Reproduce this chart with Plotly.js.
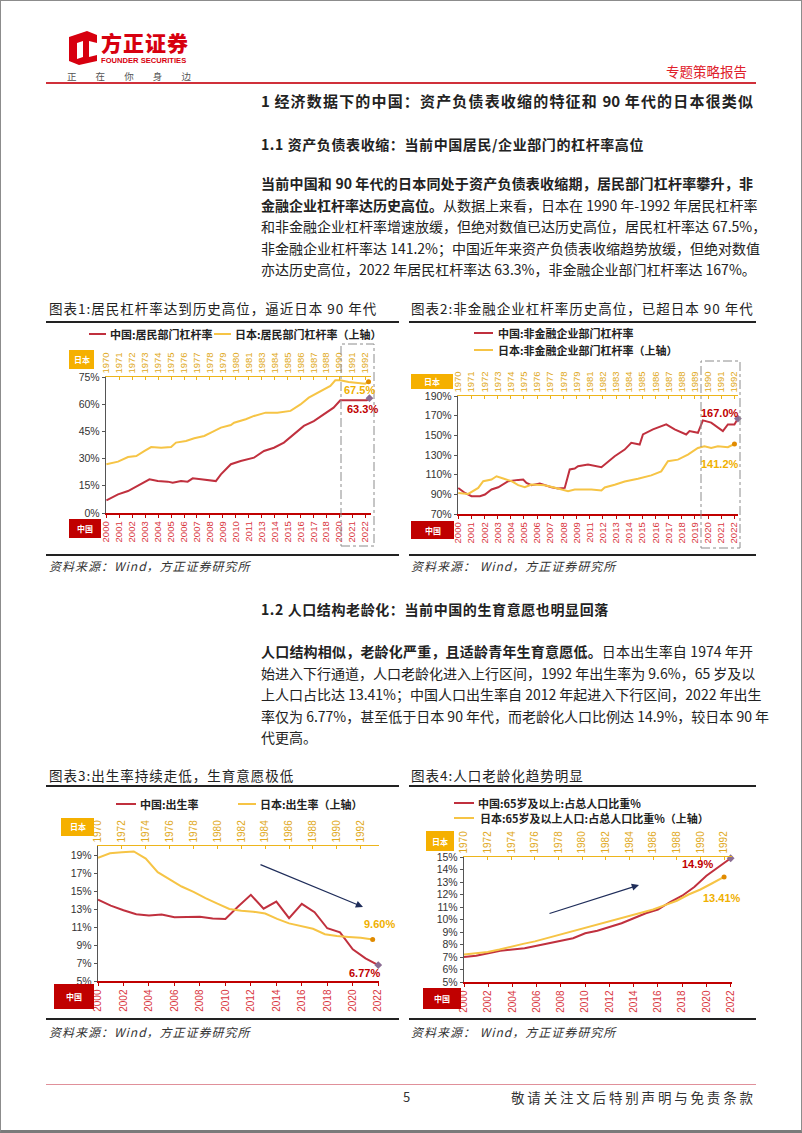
<!DOCTYPE html>
<html>
<head>
<meta charset="utf-8">
<script src="https://cdn.plot.ly/plotly-3.0.1.min.js"></script>
<style>
  body { margin: 0; background: #fff; }
  #page { position: relative; width: 800px; height: 1129px; border: 1px solid #8c8c8c; border-bottom: 3px solid #7a7a7a;
          overflow: hidden; font-family: "Liberation Sans Narrow", "Noto Sans CJK SC", sans-serif; color: #222; }
  .abs { position: absolute; white-space: nowrap; }
  .para { position: absolute; left: 260px; width: 492px; font-size: 14px; line-height: 21.5px; }
  .para div { text-align: justify; text-align-last: justify; white-space: nowrap; }
  .para div.last { text-align-last: left; }
  .ctitle { position: absolute; font-family: "Noto Sans CJK SC", sans-serif; font-size: 13.5px; line-height: 18px; letter-spacing: 1px; white-space: nowrap; }
  .rule { position: absolute; height: 1.5px; background: #222; }
  .src { position: absolute; font-family: "Noto Sans CJK SC", sans-serif; font-size: 12px; font-style: italic; letter-spacing: 1px; color: #333; white-space: nowrap; }
  .chart { position: absolute; }
</style>
</head>
<body>
<div id="page">
  <!-- header -->
  <svg class="abs" style="left:66px;top:30px" width="30" height="34" viewBox="0 0 30 34">
    <path fill="#D7000F" fill-rule="evenodd" d="M2 6 L20 0 L30 4 L30 12 L22 10 L22 26 L30 24 L30 30 L12 34 L2 30 Z M10 12 L10 28 L16 26 L16 10 Z"/>
  </svg>
  <div class="abs" style="left:100px;top:28px;font-family:'Noto Sans CJK SC';font-size:21px;font-weight:900;color:#D7000F;letter-spacing:1px;line-height:26px">方正证券</div>
  <div class="abs" style="left:100px;top:55px;font-family:'Liberation Sans';font-size:7.6px;font-weight:700;color:#D7000F;line-height:9px">FOUNDER SECURITIES</div>
  <div class="abs" style="left:66px;top:69px;width:124px;font-family:'Noto Sans CJK SC';font-size:9.5px;color:#555;text-align:justify;text-align-last:justify;line-height:12px">正在你身边</div>
  <div class="abs" style="left:665px;top:61px;font-family:'Noto Sans CJK SC';font-size:13.5px;color:#E0202A;line-height:18px">专题策略报告</div>
  <div class="abs" style="left:45px;top:81px;width:710px;height:1.5px;background:#D0303A"></div>

  <div class="abs" style="left:260px;top:90px;width:492px;font-size:15px;font-weight:700;line-height:20px;text-align:justify;text-align-last:justify">1 经济数据下的中国：资产负债表收缩的特征和 90 年代的日本很类似</div>
  <div class="abs" style="left:260px;top:133px;font-size:14px;font-weight:700;line-height:20px;letter-spacing:0.6px">1.1 资产负债表收缩：当前中国居民/企业部门的杠杆率高位</div>

  <div class="para" style="top:172px">
    <div><b>当前中国和 90 年代的日本同处于资产负债表收缩期，居民部门杠杆率攀升，非</b></div>
    <div><b>金融企业杠杆率达历史高位。</b>从数据上来看，日本在 1990 年-1992 年居民杠杆率</div>
    <div>和非金融企业杠杆率增速放缓，但绝对数值已达历史高位，居民杠杆率达 67.5%，</div>
    <div>非金融企业杠杆率达 141.2%；中国近年来资产负债表收缩趋势放缓，但绝对数值</div>
    <div class="last">亦达历史高位，2022 年居民杠杆率达 63.3%，非金融企业部门杠杆率达 167%。</div>
  </div>

  <div class="ctitle" style="left:48px;top:298px">图表1:居民杠杆率达到历史高位，逼近日本 90 年代</div>
  <div class="ctitle" style="left:410px;top:298px">图表2:非金融企业杠杆率历史高位，已超日本 90 年代</div>
  <div class="rule" style="left:45px;top:320px;width:353px"></div>
  <div class="rule" style="left:408px;top:320px;width:347px"></div>
  <div id="chart1" class="chart"></div>
  <div id="chart2" class="chart"></div>
  <div class="rule" style="left:45px;top:553px;width:353px"></div>
  <div class="rule" style="left:408px;top:553px;width:347px"></div>
  <div class="src" style="left:48px;top:556px">资料来源：Wind，方正证券研究所</div>
  <div class="src" style="left:410px;top:556px">资料来源： Wind，方正证券研究所</div>

  <div class="abs" style="left:260px;top:598px;font-size:14px;font-weight:700;line-height:20px;letter-spacing:0.6px">1.2 人口结构老龄化：当前中国的生育意愿也明显回落</div>
  <div class="para" style="top:640px">
    <div><b>人口结构相似，老龄化严重，且适龄青年生育意愿低。</b>日本出生率自 1974 年开</div>
    <div>始进入下行通道，人口老龄化进入上行区间，1992 年出生率为 9.6%，65 岁及以</div>
    <div>上人口占比达 13.41%；中国人口出生率自 2012 年起进入下行区间，2022 年出生</div>
    <div>率仅为 6.77%，甚至低于日本 90 年代，而老龄化人口比例达 14.9%，较日本 90 年</div>
    <div class="last">代更高。</div>
  </div>

  <div class="ctitle" style="left:48px;top:765px">图表3:出生率持续走低，生育意愿极低</div>
  <div class="ctitle" style="left:410px;top:765px">图表4:人口老龄化趋势明显</div>
  <div class="rule" style="left:45px;top:784px;width:353px"></div>
  <div class="rule" style="left:408px;top:784px;width:347px"></div>
  <div id="chart3" class="chart"></div>
  <div id="chart4" class="chart"></div>
  <div class="rule" style="left:45px;top:1017px;width:353px"></div>
  <div class="rule" style="left:408px;top:1017px;width:347px"></div>
  <div class="src" style="left:48px;top:1022px">资料来源：Wind，方正证券研究所</div>
  <div class="src" style="left:410px;top:1022px">资料来源： Wind，方正证券研究所</div>

  <!-- footer -->
  <div class="abs" style="left:45px;top:1083px;width:710px;height:1px;background:#E0909A"></div>
  <div class="abs" style="left:402px;top:1087px;font-size:13px;color:#333;line-height:18px">5</div>
  <div class="abs" style="left:510px;top:1087px;width:242px;font-family:'Noto Sans CJK SC';font-size:13.5px;color:#333;line-height:18px;text-align:justify;text-align-last:justify">敬请关注文后特别声明与免责条款</div>
</div>

<script>
// values
// charts 1 and 2 use tick-label index on both x axes (labels are irregular)

// 图表1: 居民部门杠杆率 (%)
var c1Bottom = ['2000','2001','2002','2003','2004','2005','2006','2007','2008','2009','2010','2011','2013','2014','2015','2016','2017','2018','2020','2021','2022'];
var c1Top = ['1970','1971','1972','1973','1974','1975','1976','1977','1978','1979','1980','1981','1983','1984','1985','1986','1987','1988','1990','1991','1992'];
var c1CnX = [0,0.9,1.67,2.44,3.33,3.97,4.74,5.13,5.77,6.28,6.67,7.31,7.82,8.46,8.85,9.23,9.62,10.38,11.41,12.18,12.95,13.72,14.49,15.26,16.03,16.79,17.56,18.08,19.1,20.13,20.33];
var c1CnY = [7.0,10.3,12.1,14.9,18.6,17.6,17.3,16.7,17.6,17.3,19.1,18.6,18.0,17.6,21.3,24.1,26.9,28.7,30.5,34.2,36.0,38.8,43.4,48.0,50.7,54.4,58.1,62.2,62.0,62.2,63.3];
var c1JpX = [0,0.9,1.67,2.31,2.95,3.46,4.23,5.0,5.38,6.15,6.79,7.56,8.08,8.85,9.62,9.87,10.77,11.41,12.31,13.21,14.23,15.0,15.64,16.54,17.31,17.69,18.08,18.72,19.36,20.0,20.26];
var c1JpY = [25.1,26.4,28.8,29.3,31.9,33.9,33.6,33.9,36.2,37.0,38.4,39.6,41.3,43.9,45.2,46.4,48.2,49.9,51.6,51.6,52.5,55.8,59.3,62.7,65.3,68.2,68.2,67.4,67.1,66.5,67.5];

// 图表2: 非金融企业部门杠杆率 (%)
var c2Bottom = ['2000','2001','2002','2003','2004','2005','2006','2007','2008','2009','2011','2012','2013','2014','2015','2016','2017','2018','2019','2020','2021','2022'];
var c2Top = ['1970','1971','1972','1973','1974','1975','1976','1977','1978','1979','1981','1982','1983','1984','1985','1986','1987','1988','1989','1990','1991','1992'];
var c2CnX = [0,0.51,1.01,1.65,2.03,2.53,3.04,3.80,4.56,4.94,5.19,5.57,6.20,6.58,7.09,7.59,8.10,8.48,8.86,9.11,9.87,10.89,11.90,12.66,13.16,13.80,14.05,14.81,15.57,15.82,16.46,17.34,17.59,18.23,18.61,19.24,20.13,20.51,21.01,21.27];
var c2CnY = [96.5,91.4,88.1,88.1,89.8,94.9,97.2,103.4,104.7,105.1,101.6,99.3,101.0,99.3,97.2,95.9,96.5,115.3,116.3,118.6,120.3,117.6,128.8,135.5,142.4,140.7,150.9,156.0,159.4,161.1,156.0,150.9,154.3,152.6,165.2,162.9,154.3,161.1,161.1,167.0];
var c2JpX = [0,0.76,1.52,1.90,2.53,2.91,3.42,4.05,4.56,5.06,5.57,6.58,7.59,8.35,8.86,10.13,10.89,11.14,11.90,12.66,13.67,14.68,15.44,15.95,16.71,17.47,18.23,18.73,19.24,19.75,20.51,21.01];
var c2JpY = [91.4,90.4,96.5,103.4,105.1,108.4,106.1,103.4,99.3,97.2,100.0,99.3,95.9,93.2,94.9,94.9,94.0,97.0,99.7,103.1,105.9,109.3,113.4,123.6,125.3,130.4,137.2,138.9,137.2,138.9,138.0,141.2];

// 图表3: 出生率 (%)
var c3Bottom = ['2000','2002','2004','2006','2008','2010','2012','2014','2016','2018','2020','2022'];
var c3Top = ['1970','1972','1974','1976','1978','1980','1982','1984','1986','1988','1990','1992'];
var c3CnX = [2000,2001,2002,2003,2004,2005,2006,2007,2008,2009,2010,2011,2012,2013,2014,2015,2016,2017,2018,2019,2020,2021,2022];
var c3CnY = [14.03,13.38,12.86,12.41,12.29,12.40,12.09,12.10,12.14,11.95,11.90,13.27,14.57,13.03,13.83,11.99,13.57,12.64,10.86,10.41,8.52,7.52,6.77];
var c3JpX = [1970,1971,1972,1973,1974,1975,1976,1977,1978,1979,1980,1981,1982,1983,1984,1985,1986,1987,1988,1989,1990,1991,1992,1993];
var c3JpY = [18.7,19.2,19.3,19.4,18.6,17.1,16.3,15.5,14.9,14.2,13.6,13.0,12.8,12.7,12.5,11.9,11.4,11.1,10.8,10.2,10.0,9.9,9.8,9.6];

// 图表4: 65岁及以上人口占比 (%)
var c4Bottom = ['2000','2002','2004','2006','2008','2010','2012','2014','2016','2018','2020','2022'];
var c4Top = ['1970','1972','1974','1976','1978','1980','1982','1984','1986','1988','1990','1992'];
var c4CnX = [2000,2001,2002,2003,2004,2005,2006,2007,2008,2009,2010,2011,2012,2013,2014,2015,2016,2017,2018,2019,2020,2021,2022];
var c4CnY = [7.0,7.1,7.3,7.5,7.6,7.7,7.9,8.1,8.3,8.5,8.9,9.1,9.4,9.7,10.1,10.5,10.8,11.4,11.9,12.6,13.5,14.2,14.9];
var c4JpX = [1970,1971,1972,1973,1974,1975,1976,1977,1978,1979,1980,1981,1982,1983,1984,1985,1986,1987,1988,1989,1990,1991,1992];
var c4JpY = [7.2,7.3,7.4,7.6,7.85,8.05,8.25,8.5,8.8,9.05,9.3,9.55,9.8,10.05,10.25,10.55,10.8,11.15,11.5,12.0,12.4,12.9,13.41];

var RED = '#C0303E', GOLD = '#F6C445';
var LAT = 'Liberation Sans, Arial, sans-serif';
var CJK = 'Noto Sans CJK SC, sans-serif';

// box / plot given in page pixels: box = [left, top, w, h], plot = [L, T, R, B]
function drawChart(id, d, c) {
  var L = c.plot[0], T = c.plot[1], R = c.plot[2], B = c.plot[3];
  function px(X) { return (X - L) / (R - L); }
  function py(Y) { return (B - Y) / (B - T); }
  var el = document.getElementById(id);
  el.style.left = c.box[0] + 'px';
  el.style.top = c.box[1] + 'px';
  el.style.width = c.box[2] + 'px';
  el.style.height = c.box[3] + 'px';

  var jpAx = c.y2Range ? 'y2' : 'y';
  var n = d.cnX.length - 1, m = d.jpX.length - 1;
  var traces = [
    {x: d.cnX, y: d.cnY, xaxis: 'x', yaxis: 'y', mode: 'lines', line: {color: RED, width: 2}},
    {x: d.jpX, y: d.jpY, xaxis: 'x2', yaxis: jpAx, mode: 'lines', line: {color: GOLD, width: 2}},
    {x: [d.cnX[n]], y: [d.cnY[n]], xaxis: 'x', yaxis: 'y', mode: 'markers', cliponaxis: false,
     marker: {symbol: 'diamond', size: 6, color: '#8B6C93'}},
    {x: [d.jpX[m]], y: [d.jpY[m]], xaxis: 'x2', yaxis: jpAx, mode: 'markers', cliponaxis: false,
     marker: {symbol: 'circle', size: 5, color: '#E08A00'}}
  ];

  var shapes = [], notes = [];
  function note(X, Y, text, font, xanchor) {
    notes.push({xref: 'paper', yref: 'paper', x: px(X), y: py(Y), xanchor: xanchor || 'center', yanchor: 'middle',
                showarrow: false, text: text, font: font});
  }
  c.legend.forEach(function (g) {
    shapes.push({type: 'line', xref: 'paper', yref: 'paper', x0: px(g.x0), x1: px(g.x1), y0: py(g.y), y1: py(g.y),
                 line: {color: g.color, width: 2}});
    note(g.tx, g.y, '<b>' + g.text + '</b>', {family: CJK, size: 11, color: '#222'}, 'left');
  });
  [[c.jpBox, '#F5B000', '日本'], [c.cnBox, '#C00000', '中国']].forEach(function (b) {
    var r = b[0];
    shapes.push({type: 'rect', xref: 'paper', yref: 'paper', x0: px(r[0]), x1: px(r[2]), y0: py(r[3]), y1: py(r[1]),
                 fillcolor: b[1], line: {width: 0}});
    note((r[0] + r[2]) / 2, (r[1] + r[3]) / 2, '<b>' + b[2] + '</b>', {family: CJK, size: 8, color: '#fff'});
  });
  if (c.dash) {
    shapes.push({type: 'rect', xref: 'paper', yref: 'paper', x0: px(c.dash[0]), x1: px(c.dash[2]),
                 y0: py(c.dash[3]), y1: py(c.dash[1]), line: {color: '#8c8c8c', width: 1, dash: 'dashdot'}});
  }
  note(c.cnLabel[0], c.cnLabel[1], '<b>' + d.cnY[n].toFixed(c.cnDigits) + '%</b>', {family: LAT, size: 11, color: '#C00000'});
  note(c.jpLabel[0], c.jpLabel[1], '<b>' + d.jpY[m].toFixed(c.jpDigits) + '%</b>', {family: LAT, size: 11, color: '#F0B000'});
  if (c.arrow) {
    var a = c.arrow;
    notes.push({xref: 'paper', yref: 'paper', x: px(a[2]), y: py(a[3]), ax: a[0] - a[2], ay: a[1] - a[3],
                text: '', showarrow: true, arrowhead: 2, arrowsize: 1.2, arrowwidth: 1.2, arrowcolor: '#1F2D5A'});
  }

  var bVals = d.bottom.map(function (s, i) { return c.yearTicks ? +s : i; });
  var tVals = d.top.map(function (s, i) { return c.yearTicks ? +s : i; });

  var layout = {
    width: c.box[2], height: c.box[3],
    margin: {l: L - c.box[0], r: c.box[0] + c.box[2] - R, t: T - c.box[1], b: c.box[1] + c.box[3] - B, pad: 0},
    paper_bgcolor: 'rgba(0,0,0,0)', plot_bgcolor: 'rgba(0,0,0,0)',
    showlegend: false,
    font: {family: LAT, size: 10, color: '#333'},
    xaxis: {range: c.xRange, tickmode: 'array', tickvals: bVals, ticktext: d.bottom, tickangle: -90,
            tickfont: {size: c.xFont, color: '#D9363E'}, showline: true, linecolor: '#C00000', linewidth: 1.5,
            ticks: 'outside', ticklen: 3, tickcolor: '#C00000', showgrid: false, zeroline: false},
    xaxis2: {overlaying: 'x', side: 'top', anchor: 'y', range: c.x2Range, tickmode: 'array', tickvals: tVals,
             ticktext: d.top, tickangle: -90, tickfont: {size: c.xFont, color: '#E0A820'}, showline: true,
             linecolor: '#EDB51C', linewidth: 1.5, ticks: 'inside', ticklen: 3, tickcolor: '#EDB51C',
             showgrid: false, zeroline: false},
    yaxis: {range: c.yRange, dtick: c.dtick, tick0: c.yRange[0], ticksuffix: '%', showline: true,
            linecolor: '#555', linewidth: 1.2, ticks: 'outside', ticklen: 3, tickcolor: '#555',
            tickfont: {size: 10.5, color: '#333'}, showgrid: false, zeroline: false},
    shapes: shapes, annotations: notes
  };
  if (c.y2Range) layout.yaxis2 = {overlaying: 'y', range: c.y2Range, visible: false};
  Plotly.newPlot(id, traces, layout, {displayModeBar: false, staticPlot: true});
}

drawChart('chart1',
  {bottom: c1Bottom, top: c1Top, cnX: c1CnX, cnY: c1CnY, jpX: c1JpX, jpY: c1JpY},
  {box: [40, 322, 360, 230], plot: [105, 376, 370, 512],
   xRange: [-0.03, 20.45], x2Range: [-0.03, 20.45], yRange: [0, 75], dtick: 15, y2Range: [0, 69.92], xFont: 9.5,
   legend: [{x0: 88, x1: 105, y: 333, tx: 107, text: '中国:居民部门杠杆率', color: RED},
            {x0: 213, x1: 230, y: 333, tx: 232, text: '日本:居民部门杠杆率（上轴）', color: GOLD}],
   jpBox: [68, 349, 93, 368], cnBox: [68, 518, 100, 537], dash: [340, 343, 373, 545],
   cnLabel: [361, 408], jpLabel: [358, 389], cnDigits: 1, jpDigits: 1});

drawChart('chart2',
  {bottom: c2Bottom, top: c2Top, cnX: c2CnX, cnY: c2CnY, jpX: c2JpX, jpY: c2JpY},
  {box: [400, 322, 360, 230], plot: [457, 395, 737, 513],
   xRange: [-0.02, 21.28], x2Range: [-0.02, 21.28], yRange: [70, 190], dtick: 20, xFont: 9.5,
   legend: [{x0: 473, x1: 492, y: 332, tx: 495, text: '中国:非金融企业部门杠杆率', color: RED},
            {x0: 473, x1: 492, y: 349, tx: 495, text: '日本:非金融企业部门杠杆率（上轴）', color: GOLD}],
   jpBox: [410, 373, 452, 388], cnBox: [410, 520, 453, 538], dash: [700, 360, 739, 547],
   cnLabel: [719, 412], jpLabel: [719, 463], cnDigits: 1, jpDigits: 1});

drawChart('chart3',
  {bottom: c3Bottom, top: c3Top, cnX: c3CnX, cnY: c3CnY, jpX: c3JpX, jpY: c3JpY},
  {box: [40, 790, 360, 225], plot: [97, 845, 378, 980], yearTicks: true,
   xRange: [2000, 2022.06], x2Range: [1970, 1993.53], yRange: [5, 20], dtick: 2, xFont: 10,
   legend: [{x0: 115, x1: 135, y: 803, tx: 137, text: '中国:出生率', color: RED},
            {x0: 237, x1: 255, y: 803, tx: 257, text: '日本:出生率（上轴）', color: GOLD}],
   jpBox: [60, 817, 93, 835], cnBox: [53, 983, 93, 1008],
   cnLabel: [363, 972], jpLabel: [378, 923], cnDigits: 2, jpDigits: 2,
   arrow: [258, 863, 362, 906]});

drawChart('chart4',
  {bottom: c4Bottom, top: c4Top, cnX: c4CnX, cnY: c4CnY, jpX: c4JpX, jpY: c4JpY},
  {box: [400, 790, 360, 225], plot: [463, 856, 731, 981], yearTicks: true,
   xRange: [2000, 2022.11], x2Range: [1970, 1992.67], yRange: [5, 15], dtick: 1, xFont: 10,
   legend: [{x0: 453, x1: 473, y: 802, tx: 475, text: '中国:65岁及以上:占总人口比重%', color: RED},
            {x0: 453, x1: 473, y: 817, tx: 477, text: '日本:65岁及以上人口:占总人口比重%（上轴）', color: GOLD}],
   jpBox: [425, 830, 453, 850], cnBox: [422, 987, 460, 1008],
   cnLabel: [696, 863], jpLabel: [721, 897], cnDigits: 1, jpDigits: 2,
   arrow: [547, 913, 638, 884]});
</script>
</body>
</html>
